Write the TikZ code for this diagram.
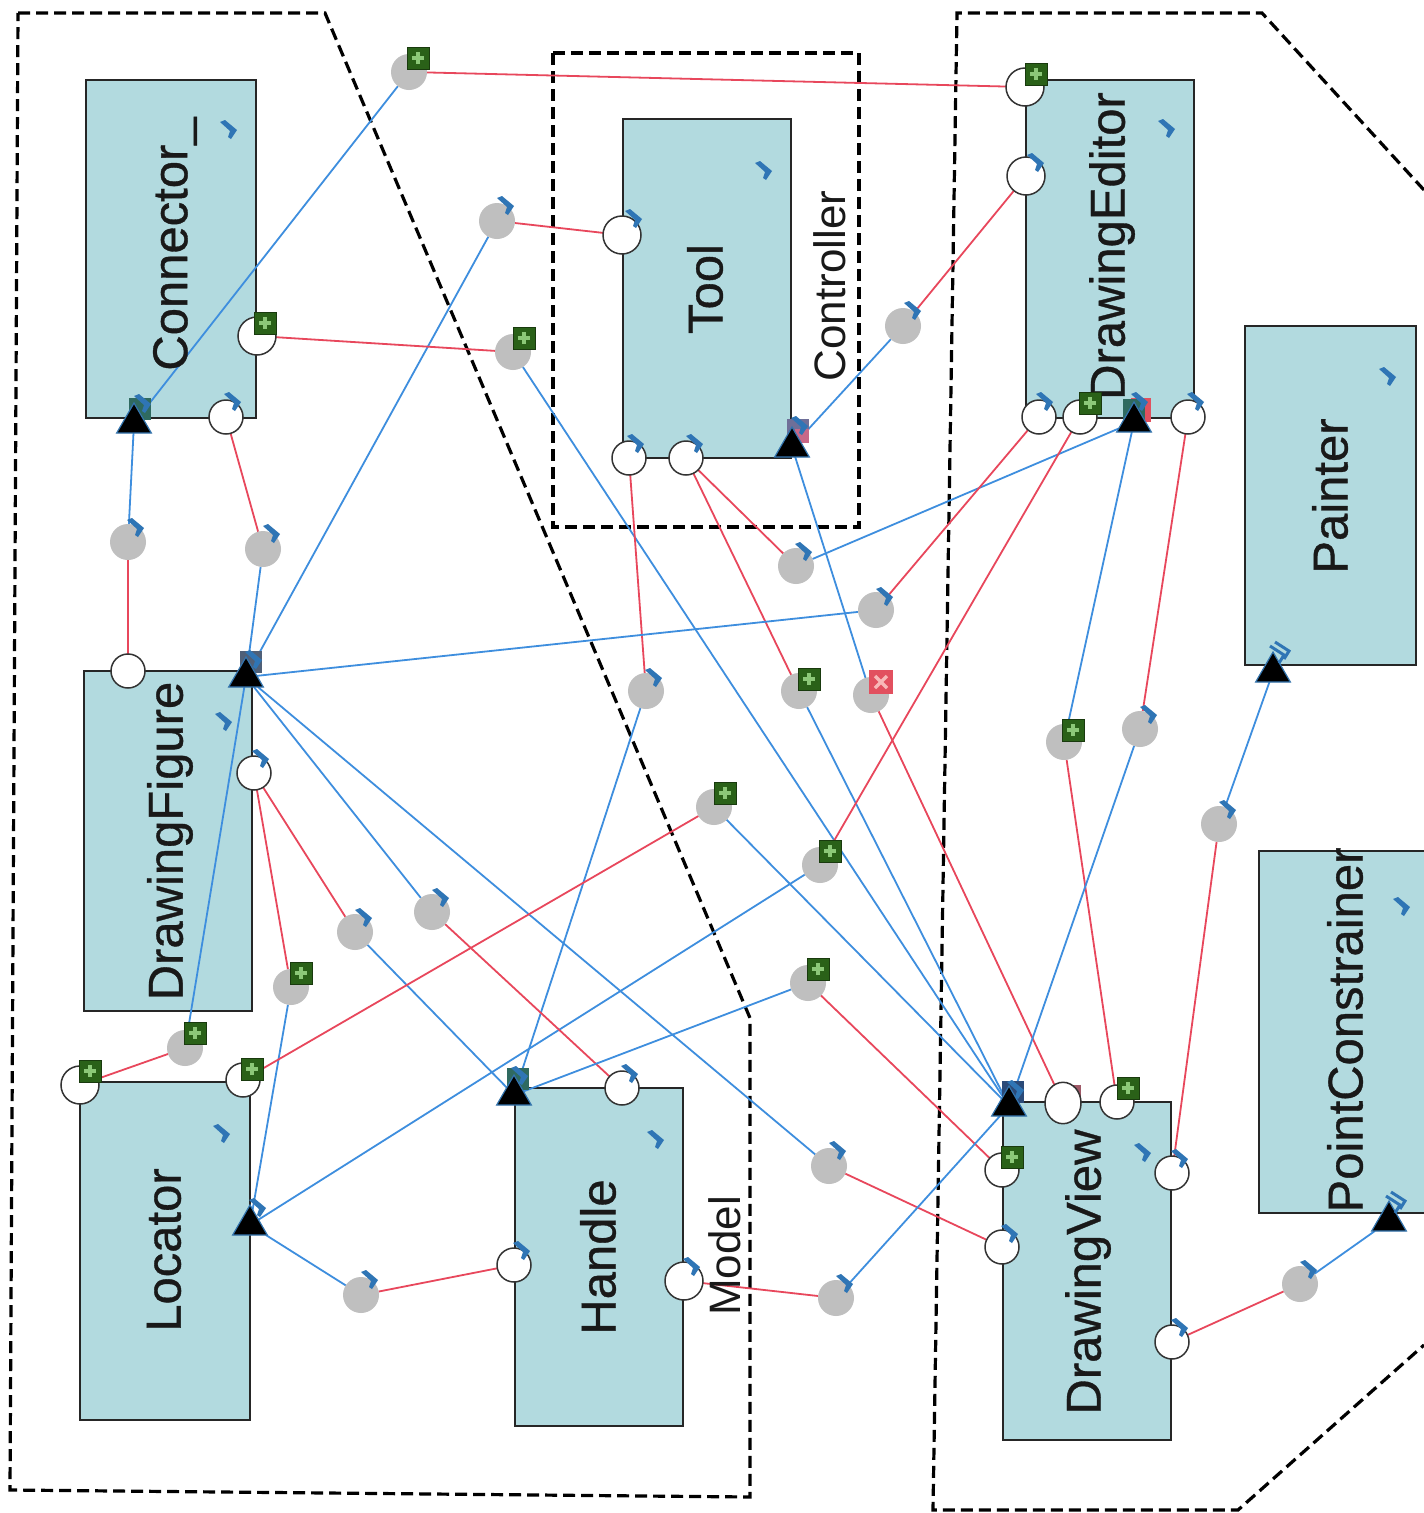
\documentclass[tikz,border=0pt]{standalone}
\usepackage{fontspec}
\setmainfont{Liberation Sans}
\newfontfamily\titlefont[FakeBold=0.7]{Liberation Sans}
\usetikzlibrary{shapes.geometric,backgrounds}
\pgfdeclarelayer{blocks}\pgfdeclarelayer{wires}
\pgfsetlayers{blocks,wires,main}
\definecolor{blockc}{HTML}{B2DADF}
\definecolor{wireb}{HTML}{3E8EDE}
\definecolor{wirer}{HTML}{E8475C}
\definecolor{chevc}{HTML}{2F75B5}
\definecolor{grayp}{HTML}{BFBFBF}
\definecolor{plusg}{HTML}{2A6118}
\definecolor{plusl}{HTML}{8CC878}
\definecolor{crossr}{HTML}{E2505F}
\definecolor{crossl}{HTML}{F8B8B8}
\definecolor{undertool}{HTML}{6F6F98}
\definecolor{undertoolr}{HTML}{C86888}
\definecolor{underfig}{HTML}{4F6078}
\definecolor{underteal}{HTML}{2F6A60}
\definecolor{underview}{HTML}{2B4A78}
\definecolor{underdk}{HTML}{A05A68}
\tikzset{
 block/.style={draw=black!85,line width=1.5,fill=blockc,rectangle,inner sep=0,outer sep=0},
 region/.style={draw=black,line width=3.2,dash pattern=on 12 off 6},
 bwire/.style={draw=wireb,line width=1.8},
 rwire/.style={draw=wirer,line width=1.8},
 grayport/.style={circle,fill=grayp,minimum size=36,inner sep=0,outer sep=0},
 whiteport/.style={circle,draw=black!80,line width=1.5,fill=white,minimum size=34,inner sep=0,outer sep=0},
 bigwhite/.style={whiteport,minimum size=38},
 tri/.style={regular polygon,regular polygon sides=3,fill=black,draw=cyan!60!blue!80!black,line width=1.2,minimum size=40,inner sep=0,outer sep=0},
 title/.style={rotate=90,font=\titlefont\fontsize{49}{49}\selectfont,inner sep=0,text=black!90},
 plainlabel/.style={rotate=90,font=\fontsize{44}{44}\selectfont,inner sep=0,text=black!90},
 plusicon/.style={rectangle,fill=plusg,draw=plusg!60!black,line width=1,minimum size=22,inner sep=0,
   path picture={\draw[plusl,line width=3.5] ([xshift=-6]path picture bounding box.center)--([xshift=6]path picture bounding box.center)
     ([yshift=-6]path picture bounding box.center)--([yshift=6]path picture bounding box.center);}},
 crossicon/.style={rectangle,fill=crossr,minimum size=24,inner sep=0,
   path picture={\draw[crossl,line width=3.5] ([shift={(-6pt,-6pt)}]path picture bounding box.center)--([shift={(6pt,6pt)}]path picture bounding box.center)
     ([shift={(-6pt,6pt)}]path picture bounding box.center)--([shift={(6pt,-6pt)}]path picture bounding box.center);}},
 under/.style={rectangle,minimum size=22,inner sep=0},
}
\newcommand{\chev}[2]{\fill[chevc] (#1-9,#2-8)--(#1-4,#2-10)--(#1+8,#2+0)--(#1+2,#2+9)--(#1-1,#2+7)--(#1+1,#2+1)--cycle;}
\newcommand{\dchev}[2]{\draw[chevc,line width=3] (#1-8,#2-8)--(#1+6,#2+1)--(#1+1,#2+9) (#1-3,#2-12)--(#1+11,#2-3)--(#1+6,#2+5);}
\newcommand{\gport}[3]{\node[grayport] (#1) at (#2,#3) {};}
\newcommand{\whp}[3]{\node[whiteport] (#1) at (#2,#3) {};}
\newcommand{\whpb}[3]{\node[bigwhite] (#1) at (#2,#3) {};}
\newcommand{\plusi}[3]{\node[plusicon] (#1) at (#2,#3) {};}
\newcommand{\blk}[5]{\node[block,minimum width=#4,minimum height=#5,anchor=north west] (#1) at (#2,#3) {};}
\begin{document}
\begin{tikzpicture}[x=1pt,y=-1pt]
\useasboundingbox (0,0) rectangle (1424,1513);
\clip (0,0) rectangle (1424,1513);
% blocks
\begin{pgfonlayer}{blocks}
\fill[white] (0,0) rectangle (1424,1513);
\blk{connb}{86}{80}{170}{338}
\blk{toolb}{623}{119}{168}{339}
\blk{editb}{1026}{80}{168}{338}
\blk{paintb}{1245}{326}{171}{339}
\blk{pointb}{1259}{851}{200}{362}
\blk{figb}{84}{671}{168}{340}
\blk{locb}{80}{1082}{170}{338}
\blk{handb}{515}{1088}{168}{338}
\blk{viewb}{1003}{1102}{168}{338}
\draw[region] (18,13)--(325,13)--(750,1018)--(750,1497)--(10,1490)--cycle;
\draw[region] (553,53) rectangle (859,527);
\draw[region] (1424,190)--(1262,13)--(957,13)--(933,1510)--(1238,1510)--(1424,1345);
\end{pgfonlayer}
\node[plainlabel] (modellabel) at (725,1256) {Model};
\node[plainlabel] (ctrllabel) at (830,286) {Controller};
\node[title] (connt) at (175,244) {Connector\_};
\node[title] (toolt) at (705,289) {Tool};
\node[title] (editt) at (1112,246) {DrawingEditor};
\node[title] (paintt) at (1330,496) {Painter};
\node[title] (pointt) at (1345,1030) {PointConstrainer};
\node[title] (figt) at (170,841) {DrawingFigure};
\node[title] (loct) at (164,1250) {Locator};
\node[title] (handt) at (598,1257) {Handle};
\node[title] (viewt) at (1088,1272) {DrawingView};
% triangle under-icons
\node[under,fill=underteal] (uconn) at (140,409) {};
\node[under,fill=undertool] (utoolb) at (798,430) {};
\node[under,fill=undertoolr,minimum size=14] (utoolr) at (802,436) {};
\node[under,fill=crossr,minimum width=20,minimum height=24] (uedr) at (1141,410) {};
\node[under,fill=underteal] (uedg) at (1134,410) {};
\node[under,fill=underfig] (ufig) at (251,662) {};
\node[under,fill=underteal] (uhand) at (518,1079) {};
\node[under,fill=underview] (uview) at (1013,1092) {};
\node[under,fill=underdk,minimum size=14] (ured) at (1074,1092) {};
\chev{143}{404}\chev{800}{426}\chev{254}{660}\chev{520}{1076}\chev{1016}{1090}
% triangles
\node[tri] (tconn) at (134,423) {};
\node[tri] (ttool) at (792,447) {};
\node[tri] (tedit) at (1134,422) {};
\node[tri] (tfig) at (246,677) {};
\node[tri] (thand) at (514,1095) {};
\node[tri] (tview) at (1009,1106) {};
\node[tri] (tloc) at (250,1225) {};
\node[tri] (tpaint) at (1273,672) {};
\node[tri] (tpoint) at (1389,1221) {};
% white ports
\whpb{wc1}{257}{336} \whp{wc2}{226}{417}
\whpb{wt1}{622}{235} \whp{wt2}{629}{458} \whp{wt3}{686}{458}
\whpb{we1}{1025}{87} \whpb{we2}{1026}{176} \whp{we3}{1039}{417} \whp{we4}{1080}{417} \whp{we5}{1188}{417}
\whp{wf1}{128}{671} \whp{wf2}{254}{773}
\whpb{wl1}{80}{1085} \whp{wl2}{243}{1080}
\whp{wh1}{622}{1088} \whp{wh2}{514}{1265} \whpb{wh3}{684}{1281}
\node[bigwhite,minimum size=36,yscale=1.15] (wv1) at (1063,1103) {};
\whp{wv2}{1117}{1102} \whp{wv3}{1002}{1170} \whp{wv4}{1172}{1173} \whp{wv5}{1002}{1247} \whp{wv6}{1172}{1342}
% gray ports
\gport{g1}{409}{72} \gport{g2}{497}{221} \gport{g3}{513}{352} \gport{g4}{903}{326}
\gport{g5}{263}{549} \gport{g6}{128}{542} \gport{g7}{646}{691} \gport{g8}{796}{566}
\gport{g9}{799}{691} \gport{g10}{871}{695} \gport{g11}{876}{610} \gport{g12}{820}{865}
\gport{g13}{1064}{742} \gport{g14}{1140}{729} \gport{g15}{1219}{824} \gport{g16}{185}{1048}
\gport{g17}{355}{932} \gport{g18}{291}{987} \gport{g19}{432}{912} \gport{g20}{829}{1166}
\gport{g21}{714}{807} \gport{g22}{808}{983} \gport{g23}{361}{1295} \gport{g24}{836}{1298} \gport{g25}{1300}{1284}
% wires
\begin{pgfonlayer}{wires}
\draw[bwire] (tconn)--(g1); \draw[rwire] (g1)--(we1);
\draw[bwire] (tfig)--(g2); \draw[rwire] (g2)--(wt1);
\draw[rwire] (wc1)--(g3); \draw[bwire] (g3)--(tview);
\draw[rwire] (we2)--(g4); \draw[bwire] (g4)--(ttool);
\draw[rwire] (wc2)--(g5); \draw[bwire] (g5)--(tfig);
\draw[bwire] (tconn)--(g6); \draw[rwire] (g6)--(wf1);
\draw[rwire] (wt2)--(g7); \draw[bwire] (g7)--(thand);
\draw[rwire] (wt3)--(g8); \draw[bwire] (g8)--(tedit);
\draw[rwire] (wt3)--(g9); \draw[bwire] (g9)--(tview);
\draw[bwire] (ttool)--(g10); \draw[rwire] (g10)--(wv1);
\draw[rwire] (we3)--(g11); \draw[bwire] (g11)--(tfig);
\draw[rwire] (we4)--(g12); \draw[bwire] (g12)--(tloc);
\draw[bwire] (tedit)--(g13); \draw[rwire] (g13)--(wv2);
\draw[rwire] (we5)--(g14); \draw[bwire] (g14)--(tview);
\draw[bwire] (tpaint)--(g15); \draw[rwire] (g15)--(wv4);
\draw[bwire] (tfig)--(g16); \draw[rwire] (g16)--(wl1);
\draw[rwire] (wf2)--(g17); \draw[bwire] (g17)--(thand);
\draw[rwire] (wf2)--(g18); \draw[bwire] (g18)--(tloc);
\draw[bwire] (tfig)--(g19); \draw[rwire] (g19)--(wh1);
\draw[bwire] (tfig)--(g20); \draw[rwire] (g20)--(wv5);
\draw[rwire] (wl2)--(g21); \draw[bwire] (g21)--(tview);
\draw[bwire] (thand)--(g22); \draw[rwire] (g22)--(wv3);
\draw[bwire] (tloc)--(g23); \draw[rwire] (g23)--(wh2);
\draw[rwire] (wh3)--(g24); \draw[bwire] (g24)--(tview);
\draw[rwire] (wv6)--(g25); \draw[bwire] (g25)--(tpoint);
\end{pgfonlayer}
% plus icons
\plusi{p1}{418}{58} \plusi{p2}{1036}{74} \plusi{p3}{265}{323} \plusi{p4}{524}{338}
\plusi{p5}{809}{679} \plusi{p6}{1090}{403} \plusi{p7}{830}{851} \plusi{p8}{1073}{730}
\plusi{p9}{1128}{1088} \plusi{p10}{195}{1033} \plusi{p11}{90}{1071} \plusi{p12}{301}{973}
\plusi{p13}{252}{1069} \plusi{p14}{725}{793} \plusi{p15}{818}{969} \plusi{p16}{1012}{1157}
\node[crossicon] (x1) at (881,682) {};
% chevrons: blocks
\chev{229}{130}\chev{764}{171}\chev{1167}{129}\chev{1388}{377}\chev{1402}{907}
\chev{224}{722}\chev{222}{1134}\chev{656}{1140}\chev{1143}{1153}
% chevrons: gray ports
\chev{506}{206}\chev{913}{311}\chev{272}{534}\chev{136}{528}\chev{654}{678}\chev{804}{552}
\chev{885}{597}\chev{1149}{715}\chev{1228}{810}\chev{364}{918}\chev{441}{898}\chev{838}{1151}
\chev{370}{1280}\chev{845}{1284}\chev{1309}{1270}
% chevrons: white ports
\chev{233}{402}\chev{634}{219}\chev{636}{444}\chev{695}{444}\chev{1036}{163}\chev{1045}{402}
\chev{1196}{402}\chev{261}{759}\chev{630}{1074}\chev{522}{1251}\chev{692}{1267}\chev{1180}{1159}
\chev{1010}{1234}\chev{1180}{1328}
% chevrons: triangles
\chev{258}{1208}\chev{1140}{402}\dchev{1278}{654}\dchev{1394}{1204}
\end{tikzpicture}
\end{document}
